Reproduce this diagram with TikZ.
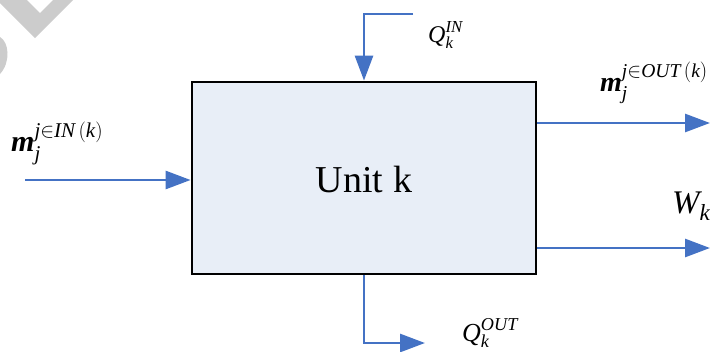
\documentclass[tikz,border=0pt]{standalone}
\usepackage{amsmath}
\usepackage{fontspec}
\setmainfont{Liberation Serif}
\usetikzlibrary{arrows.meta}
\definecolor{flowblue}{RGB}{68,114,196}
\definecolor{boxfill}{RGB}{232,238,247}
\definecolor{wmgray}{RGB}{204,204,204}
\newcommand{\myit}[1]{\text{\itshape #1}}
\newcommand{\mybi}[1]{\text{\bfseries\itshape #1}}
\tikzset{
  flow/.style={draw=flowblue, line width=2.8pt, -{Triangle[length=25pt,width=18pt]}},
  unitbox/.style={draw=black, line width=2.8pt, fill=boxfill, minimum width=344pt, minimum height=192pt, inner sep=0pt},
  lbl/.style={inner sep=0pt, anchor=base west},
}
\begin{document}
\begin{tikzpicture}[x=1pt,y=-1pt]
\useasboundingbox (0,0) rectangle (710,351);
% watermark fragments
\fill[wmgray] (0,0) -- (0,3) -- (35,38) -- (73,0) -- (53,0) -- (40,13) -- (27,0) -- cycle;
\fill[wmgray] (0,37) .. controls (9,42) and (11,62) .. (0,74) -- cycle;
% unit box
\node[unitbox] (box) at (364,178) {};
\node[inner sep=0pt, anchor=base] (unit) at (364,192) {\fontsize{38}{40}\selectfont Unit k};
% coordinates
\coordinate (inS) at (25,180);
\coordinate (qinS) at (413,14);
\coordinate (moutE) at (710,123);
\coordinate (wE) at (710,248);
\coordinate (qoutE) at (425,343);
% connectors
\draw[flow] (inS) -- (inS -| box.west);
\draw[flow] (qinS) -| (box.north);
\draw[flow] (moutE -| box.east) -- (moutE);
\draw[flow] (wE -| box.east) -- (wE);
\draw[flow] (box.south) |- (qoutE);
% labels
\node[lbl] (lmin) at (11,151) {\fontsize{30}{34}\selectfont $\mybi{m}_{\myit{j}}^{\myit{j}\in \myit{IN}\,(\myit{k})}$};
\node[lbl] (lqin) at (428,42) {\fontsize{24}{28}\selectfont $\myit{Q}_{\myit{k}}^{\myit{IN}}$};
\node[lbl] (lmout) at (600,91) {\fontsize{28}{32}\selectfont $\mybi{m}_{\myit{j}}^{\myit{j}\in \myit{OUT}\,(\myit{k})}$};
\node[lbl] (lw) at (672,213) {\fontsize{33}{36}\selectfont $\myit{W}_{\myit{k}}$};
\node[lbl] (lqout) at (462,341) {\fontsize{26}{30}\selectfont $\myit{Q}_{\myit{k}}^{\myit{OUT}}$};
\end{tikzpicture}
\end{document}
